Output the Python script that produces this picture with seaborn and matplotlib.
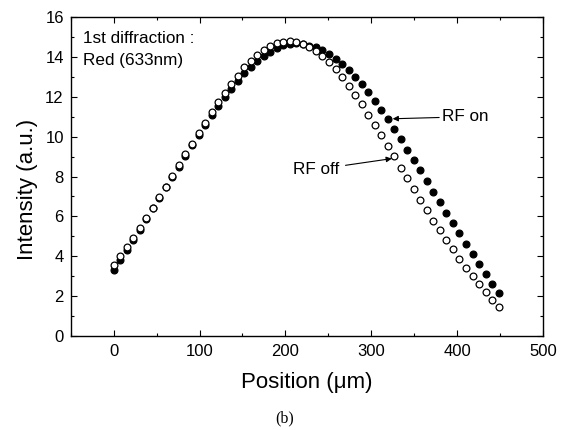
import matplotlib
matplotlib.use("Agg")
import matplotlib.pyplot as plt
import seaborn as sns
from matplotlib.ticker import MultipleLocator

# --- data ---
position = [0, 7.6, 15.2, 22.8, 30.4, 38.0, 45.6, 53.2, 60.8, 68.4,
            76.0, 83.6, 91.2, 98.8, 106.4, 114.0, 121.6, 129.2, 136.8, 144.4,
            152.0, 159.6, 167.2, 174.8, 182.4, 190.0, 197.6, 205.2, 212.8, 220.4,
            228.0, 235.6, 243.2, 250.8, 258.4, 266.0, 273.6, 281.2, 288.8, 296.4,
            304.0, 311.6, 319.2, 326.8, 334.4, 342.0, 349.6, 357.2, 364.8, 372.4,
            380.0, 387.6, 395.2, 402.8, 410.4, 418.0, 425.6, 433.2, 440.8, 448.4]

rf_on = [3.32, 3.79, 4.31, 4.82, 5.33, 5.88, 6.40, 6.93, 7.46, 7.98,
         8.50, 9.04, 9.57, 10.08, 10.57, 11.09, 11.56, 11.98, 12.40, 12.81,
         13.20, 13.50, 13.78, 14.05, 14.27, 14.45, 14.59, 14.66, 14.70, 14.66,
         14.57, 14.49, 14.35, 14.17, 13.92, 13.65, 13.37, 13.02, 12.65, 12.23,
         11.81, 11.36, 10.89, 10.40, 9.88, 9.35, 8.84, 8.31, 7.77, 7.24,
         6.72, 6.18, 5.66, 5.14, 4.61, 4.11, 3.60, 3.10, 2.61, 2.15]

rf_off = [3.57, 3.99, 4.46, 4.92, 5.41, 5.91, 6.43, 6.95, 7.49, 8.03,
          8.57, 9.12, 9.65, 10.17, 10.70, 11.24, 11.74, 12.20, 12.66, 13.07,
          13.48, 13.82, 14.11, 14.36, 14.57, 14.70, 14.77, 14.80, 14.75, 14.66,
          14.49, 14.29, 14.07, 13.75, 13.38, 12.98, 12.56, 12.11, 11.62, 11.11,
          10.59, 10.07, 9.55, 9.01, 8.45, 7.93, 7.37, 6.83, 6.32, 5.79,
          5.31, 4.82, 4.36, 3.88, 3.43, 3.00, 2.60, 2.18, 1.81, 1.44]

x_ticks = [0, 100, 200, 300, 400, 500]
y_ticks = [0, 2, 4, 6, 8, 10, 12, 14, 16]

# --- style ---
sns.set_theme(style="ticks")
plt.rcParams['font.family'] = ['Liberation Sans', 'DejaVu Sans']
plt.rcParams['text.color'] = 'black'
plt.rcParams['axes.labelcolor'] = 'black'

fig = plt.figure(figsize=(5.62, 4.30), dpi=100)
ax = fig.add_axes([0.126, 0.219, 0.840, 0.741])

# filled first, open circles drawn on top
sns.scatterplot(x=position, y=rf_on, ax=ax, color='black', edgecolor='black',
                s=24, linewidth=0.9, zorder=3)
sns.scatterplot(x=position, y=rf_off, ax=ax, color='white', edgecolor='black',
                s=24, linewidth=0.9, zorder=4)

ax.set_xlim(-50, 500)
ax.set_ylim(0, 16)
ax.set_xticks(x_ticks)
ax.set_yticks(y_ticks)
ax.xaxis.set_minor_locator(MultipleLocator(50))
ax.yaxis.set_minor_locator(MultipleLocator(1))
ax.tick_params(which='both', direction='in', top=True, right=True,
               width=0.8, colors='black', labelsize=12)
ax.tick_params(which='major', length=4)
ax.tick_params(which='minor', length=2.4)
ax.tick_params(axis='x', pad=6)
ax.tick_params(axis='y', pad=5)
for sp in ax.spines.values():
    sp.set_linewidth(1.0)
    sp.set_color('black')

ax.set_xlabel('Position (\u03bcm)', fontsize=16)
ax.set_ylabel('Intensity (a.u.)', fontsize=16)
ax.xaxis.set_label_coords(0.5, -0.112)
ax.yaxis.set_label_coords(-0.070, 0.46)

ax.text(0.025, 0.957, '1st diffraction :\nRed (633nm)', transform=ax.transAxes,
        fontsize=12.3, va='top', ha='left', linespacing=1.55, color='black')

ax.annotate('RF on', xy=(325, 10.9), xytext=(383, 11.0), fontsize=12.3,
            va='center', ha='left', color='black',
            arrowprops=dict(arrowstyle='-|>', color='black', lw=0.8,
                            mutation_scale=8, shrinkA=0, shrinkB=0))
ax.annotate('RF off', xy=(324, 8.9), xytext=(263, 8.35), fontsize=12.3,
            va='center', ha='right', color='black',
            arrowprops=dict(arrowstyle='-|>', color='black', lw=0.8,
                            mutation_scale=8, shrinkA=2, shrinkB=0))

fig.text(0.507, 0.028, '(b)', fontsize=11.5, ha='center', va='center',
         color='black', family=['Liberation Serif', 'DejaVu Serif'])

fig.savefig('out.png', dpi=100)
